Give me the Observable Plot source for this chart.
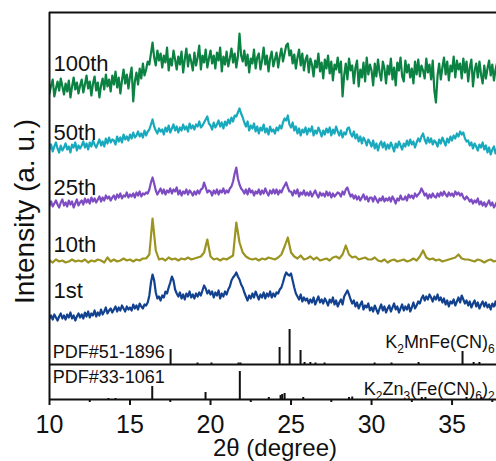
<!DOCTYPE html>
<html><head><meta charset="utf-8">
<script src="https://cdn.jsdelivr.net/npm/d3@7"></script>
<script src="https://cdn.jsdelivr.net/npm/@observablehq/plot@0.6"></script>
<style>
html,body{margin:0;padding:0;background:#fff;}
svg{display:block;}
</style></head><body>
<script>
// ---- data ----
const angleStart = 10;                        // 2θ of first sample (degree)
const seriesNames = ["1st", "10th", "25th", "50th", "100th"];
const seriesSteps = [0.1, 0.2, 0.1, 0.1, 0.1]; // sampling step of each pattern (degree)
const seriesOffsets = [79, 137, 191, 244, 294];

const cycle1st = [
  2, 5, 1, 6, 3, 0, 4, 7, 2, 5,
  1, 6, 3, 8, 2, 5, 0, 4, 7, 3,
  6, 2, 8, 4, 9, 3, 7, 5, 10, 4,
  8, 5, 11, 6, 9, 13, 7, 10, 12, 8,
  11, 14, 9, 13, 10, 15, 12, 9, 14, 11,
  13, 10, 16, 12, 15, 11, 17, 14, 12, 16,
  15, 18, 25, 38, 46, 40, 28, 22, 24, 20,
  25, 23, 29, 27, 33, 38, 44, 40, 31, 27,
  24, 28, 22, 26, 21, 27, 24, 29, 23, 26,
  22, 27, 24, 28, 25, 30, 35, 32, 27, 30,
  26, 29, 23, 28, 25, 30, 22, 27, 24, 29,
  26, 31, 34, 40, 43, 45, 48, 44, 41, 36,
  33, 28, 24, 20, 25, 22, 27, 23, 29, 25,
  21, 26, 23, 28, 22, 27, 24, 29, 23, 27,
  24, 28, 27, 31, 33, 38, 44, 48, 46, 45,
  47, 40, 33, 27, 24, 21, 26, 19, 23, 20,
  22, 17, 21, 18, 23, 16, 20, 24, 18, 21,
  17, 22, 19, 15, 21, 18, 23, 16, 20, 14,
  18, 21, 16, 24, 27, 30, 26, 21, 17, 20,
  14, 18, 12, 16, 19, 11, 15, 13, 17, 10,
  13, 9, 15, 11, 7, 12, 16, 10, 14, 8,
  12, 15, 9, 13, 17, 11, 14, 8, 12, 16,
  10, 14, 11, 16, 9, 13, 18, 12, 15, 19,
  17, 22, 25, 20, 24, 21, 26, 23, 19, 24,
  21, 26, 20, 23, 18, 22, 16, 20, 14, 19,
  17, 21, 15, 19, 23, 18, 25, 21, 17, 20,
  15, 19, 13, 17, 20, 14, 18, 12, 16, 19,
  14, 18, 13, 16, 11, 17, 14, 19, 13, 16
];
const cycle10th = [
  2, 0, 3, 1, 2, 0, 1, 3, 1, 2,
  1, 3, 0, 2, 1, 3, 2, 0, 5, 1,
  3, 1, 2, 4, 2, 3, 1, 3, 2, 4,
  4, 8, 44, 12, 3, 4, 2, 5, 3, 4,
  2, 4, 3, 5, 3, 4, 5, 6, 10, 23,
  6, 3, 4, 2, 4, 3, 5, 7, 40, 20,
  10, 6, 4, 3, 4, 2, 4, 3, 5, 4,
  3, 5, 8, 16, 25, 10, 6, 4, 7, 3,
  4, 6, 3, 5, 2, 3, 4, 2, 5, 6,
  4, 8, 17, 8, 5, 6, 3, 4, 5, 3,
  3, 5, 2, 1, 3, 0, 2, 3, 1, 2,
  3, 1, 2, 4, 2, 6, 12, 5, 3, 4,
  2, 3, 1, 2, 3, 4, 5, 8, 4, 3,
  3, 2, 1, 3, 2, 0, 2, 3, 1, 2
];
const cycle25th = [
  3, 7, 2, 5, 8, 4, 1, 6, 9, 3,
  6, 2, 8, 4, 7, 1, 5, 9, 3, 6,
  8, 4, 10, 6, 9, 5, 11, 7, 10, 6,
  9, 12, 7, 11, 8, 13, 10, 12, 8, 11,
  13, 9, 14, 11, 15, 10, 13, 12, 16, 11,
  14, 12, 15, 11, 16, 13, 17, 12, 15, 14,
  16, 15, 19, 26, 31, 25, 18, 14, 17, 20,
  15, 19, 14, 18, 16, 20, 15, 19, 17, 21,
  14, 18, 13, 17, 15, 19, 14, 18, 16, 13,
  17, 14, 18, 15, 19, 20, 26, 21, 16, 18,
  17, 13, 18, 15, 19, 14, 18, 16, 20, 15,
  18, 16, 20, 22, 27, 35, 41, 30, 24, 20,
  18, 15, 19, 14, 20, 16, 18, 13, 17, 15,
  19, 14, 18, 15, 20, 16, 13, 18, 15, 19,
  15, 19, 14, 18, 16, 20, 23, 26, 21, 17,
  17, 13, 18, 15, 19, 12, 16, 14, 18, 13,
  16, 13, 17, 12, 15, 18, 14, 11, 16, 13,
  15, 12, 17, 13, 16, 11, 15, 12, 14, 16,
  15, 12, 17, 14, 19, 21, 16, 12, 14, 10,
  13, 9, 12, 8, 11, 14, 9, 12, 7, 11,
  11, 7, 12, 9, 6, 10, 8, 12, 7, 10,
  8, 11, 7, 12, 9, 5, 10, 8, 13, 9,
  9, 12, 8, 14, 11, 13, 10, 15, 12, 14,
  16, 20, 17, 13, 15, 10, 14, 11, 15, 12,
  11, 15, 12, 16, 13, 17, 14, 12, 16, 13,
  15, 12, 17, 14, 16, 13, 15, 11, 9, 12,
  10, 7, 9, 5, 8, 6, 10, 4, 7, 3,
  6, 2, 5, 8, 3, 6, 1, 4, 7, 2
];
const cycle50th = [
  6, 11, 4, 9, 13, 7, 3, 10, 5, 8,
  12, 6, 9, 3, 11, 8, 13, 5, 10, 7,
  10, 14, 8, 12, 6, 13, 9, 15, 11, 8,
  12, 16, 10, 14, 9, 17, 12, 18, 13, 16,
  15, 11, 19, 14, 18, 13, 21, 16, 19, 15,
  21, 17, 23, 18, 20, 24, 19, 22, 18, 25,
  20, 24, 26, 31, 36, 29, 25, 22, 27, 24,
  26, 21, 28, 24, 30, 23, 27, 31, 25, 29,
  23, 28, 25, 31, 26, 29, 24, 32, 27, 30,
  26, 31, 29, 34, 28, 30, 33, 36, 39, 32,
  30, 26, 33, 28, 31, 35, 29, 33, 27, 34,
  30, 36, 32, 38, 34, 40, 39, 43, 47, 42,
  38, 33, 29, 34, 25, 30, 27, 32, 24, 29,
  22, 28, 25, 31, 23, 27, 21, 29, 24, 26,
  22, 28, 25, 30, 27, 33, 37, 35, 40, 31,
  28, 33, 25, 29, 22, 27, 20, 26, 23, 28,
  21, 27, 24, 29, 20, 25, 22, 28, 24, 19,
  25, 21, 27, 23, 28, 20, 26, 22, 29, 24,
  20, 25, 18, 23, 21, 27, 28, 22, 19, 24,
  17, 21, 14, 19, 12, 18, 15, 10, 16, 13,
  9, 15, 7, 12, 5, 11, 14, 8, 13, 6,
  11, 7, 13, 9, 4, 12, 8, 14, 10, 6,
  12, 9, 15, 10, 16, 11, 14, 8, 13, 17,
  14, 19, 22, 16, 12, 18, 13, 17, 11, 15,
  13, 9, 16, 12, 18, 14, 10, 17, 13, 19,
  15, 20, 17, 22, 19, 24, 21, 23, 17, 14,
  15, 10, 13, 7, 12, 9, 5, 11, 8, 13,
  6, 10, 3, 8, 1, 6, 9, 2, 7, 4
];
const cycle100th = [
  12, 20, 26, 9, 17, 24, 15, 27, 19, 11,
  22, 14, 25, 8, 19, 28, 16, 23, 12, 20,
  26, 13, 21, 30, 17, 24, 10, 22, 29, 15,
  23, 8, 20, 27, 16, 31, 19, 26, 14, 30,
  21, 34, 18, 28, 12, 25, 36, 22, 31, 17,
  29, 38, 4, 24, 33, 21, 37, 27, 42, 30,
  36, 44, 41, 52, 63, 48, 40, 55, 45, 52,
  38, 50, 43, 58, 35, 47, 40, 55, 46, 36,
  49, 41, 54, 33, 46, 57, 39, 51, 44, 35,
  53, 40, 48, 60, 36, 50, 43, 56, 38, 47,
  55, 42, 50, 37, 53, 45, 58, 34, 49, 41,
  54, 39, 47, 57, 43, 52, 38, 49, 72, 50,
  44, 55, 40, 51, 33, 47, 42, 56, 37, 48,
  52, 36, 45, 58, 41, 50, 34, 47, 54, 39,
  46, 53, 38, 49, 57, 44, 52, 60, 62, 50,
  55, 42, 51, 37, 48, 56, 40, 52, 35, 46,
  50, 33, 47, 41, 29, 45, 38, 52, 34, 43,
  27, 46, 37, 50, 32, 44, 25, 41, 36, 48,
  33, 44, 9, 30, 42, 26, 47, 35, 40, 22,
  38, 45, 19, 36, 28, 43, 24, 48, 31, 41,
  35, 20, 42, 29, 46, 33, 25, 44, 37, 22,
  40, 31, 47, 26, 38, 20, 43, 35, 48, 29,
  24, 45, 33, 41, 28, 37, 22, 44, 31, 46,
  29, 40, 35, 27, 47, 33, 41, 26, 45, 15,
  3, 30, 42, 26, 38, 48, 31, 44, 25, 40,
  34, 49, 28, 45, 36, 42, 27, 47, 33, 44,
  24, 38, 46, 19, 35, 42, 28, 44, 31, 22,
  40, 27, 37, 45, 30, 41, 25, 36, 43, 33
];
const seriesValues = [cycle1st, cycle10th, cycle25th, cycle50th, cycle100th];

// reference patterns (stick positions and relative intensities)
const pdf51Name = "PDF#51-1896";
const pdf51Phase = "K2MnFe(CN)6";
const pdf51Angles = [17.52, 19.19, 20.06, 21.74, 21.86, 24.29, 24.91, 25.59, 25.84, 26.2, 26.52, 27.08, 30.19, 31.24, 32.92, 35.65, 36.34, 36.7];
const pdf51Heights = [15, 1.5, 1.5, 1.5, 1.5, 17, 35, 14, 2, 2, 1.5, 1.5, 1.5, 1.5, 2, 13, 2, 2];
const pdf33Name = "PDF#33-1061";
const pdf33Phase = "K2Zn3(Fe(CN)6)2";
const pdf33Angles = [13.66, 14.1, 16.38, 19.69, 21.82, 23.62, 24.35, 24.45, 24.6, 25.76, 28.6, 28.8, 33.12, 33.35, 35.9, 36.83];
const pdf33Heights = [1, 1, 13, 7, 28, 2, 4, 5, 6, 2, 2, 2.5, 2, 2, 2, 2];

const xTicks = [10, 15, 20, 25, 30, 35];
const xMinorTicks = [12.5, 17.5, 22.5, 27.5, 32.5, 37.5];

// ---- build tables ----
const rows = [];
seriesNames.forEach((name, s) => {
  seriesValues[s].forEach((v, i) => {
    rows.push({series: name, angle: +(angleStart + i * seriesSteps[s]).toFixed(2), intensity: v + seriesOffsets[s]});
  });
});
const pdf51 = pdf51Angles.map((a, i) => ({angle: a, height: pdf51Heights[i]}));
const pdf33 = pdf33Angles.map((a, i) => ({angle: a, height: pdf33Heights[i]}));
const labelLift = [30, 18, 21, 23, 42];
const seriesLabels = seriesNames.map((n, i) => ({name: n, level: seriesOffsets[i] + labelLift[i]}));

const pdf51Base = 35;
const ink = "#111";
const font = "'Liberation Sans', Arial, Helvetica, sans-serif";

const svg = Plot.plot({
  width: 496,
  height: 461,
  marginLeft: 49,
  marginRight: 0,
  marginTop: 12,
  marginBottom: 62,
  style: {fontFamily: font, background: "#fff", color: ink, overflow: "visible"},
  x: {domain: [10, 37.76]},
  y: {domain: [0, 387], axis: null},
  color: {domain: seriesNames, range: ["#12428f", "#9b9421", "#7d4cc3", "#18a9bd", "#0b8142"]},
  marks: [
    Plot.lineY(rows, {x: "angle", y: "intensity", z: "series", stroke: "series", strokeWidth: 2.2, strokeLinejoin: "round", clip: true}),
    Plot.ruleX(pdf51, {x: "angle", y1: pdf51Base, y2: d => pdf51Base + d.height, stroke: ink, strokeWidth: 2}),
    Plot.ruleX(pdf33, {x: "angle", y1: 0, y2: "height", stroke: ink, strokeWidth: 2}),
    Plot.ruleY([pdf51Base], {stroke: ink, strokeWidth: 2}),
    Plot.ruleY([0, 387], {stroke: ink, strokeWidth: 2}),
    Plot.ruleX([10], {stroke: ink, strokeWidth: 2}),
    Plot.axisX({ticks: xTicks, tickSize: 6, tickPadding: 10, fontSize: 25, label: null, strokeWidth: 2, stroke: ink}),
    Plot.axisX({ticks: xMinorTicks, tickSize: 3, tickFormat: () => "", label: null, strokeWidth: 2, stroke: ink}),
    Plot.text(seriesLabels, {x: 10.25, y: "level", text: "name", textAnchor: "start", fontSize: 22, fill: ink}),
    Plot.text([pdf51Name], {x: 10.2, y: pdf51Base + 12, textAnchor: "start", fontSize: 18, fill: ink}),
    Plot.text([pdf33Name], {x: 10.2, y: 22, textAnchor: "start", fontSize: 18, fill: ink}),
    Plot.text([pdf51Phase], {x: 37.64, y: 57, textAnchor: "end", fontSize: 18, fill: ink, className: "formula"}),
    Plot.text([pdf33Phase], {x: 37.64, y: 10, textAnchor: "end", fontSize: 18, fill: ink, className: "formula"}),
    Plot.text(["2θ (degree)"], {frameAnchor: "bottom", lineAnchor: "middle", textAnchor: "middle", dy: 49.3, dx: 2, fontSize: 24, fill: ink}),
    Plot.text(["Intensity (a. u.)"], {x: 8.45, y: 188, lineAnchor: "middle", textAnchor: "middle", rotate: -90, fontSize: 28, fill: ink})
  ]
});

// chemical formulas: render digits as subscripts
svg.querySelectorAll("g.formula text").forEach(t => {
  const s = t.textContent;
  t.textContent = "";
  const runs = s.match(/\d+|\D+/g);
  let low = false;
  for (const r of runs) {
    const sp = document.createElementNS("http://www.w3.org/2000/svg", "tspan");
    const sub = /\d/.test(r);
    if (sub && !low) { sp.setAttribute("dy", "5"); low = true; }
    else if (!sub && low) { sp.setAttribute("dy", "-5"); low = false; }
    if (sub) sp.setAttribute("font-size", "12");
    sp.textContent = r;
    t.appendChild(sp);
  }
});

document.body.appendChild(svg);
</script>
</body></html>
